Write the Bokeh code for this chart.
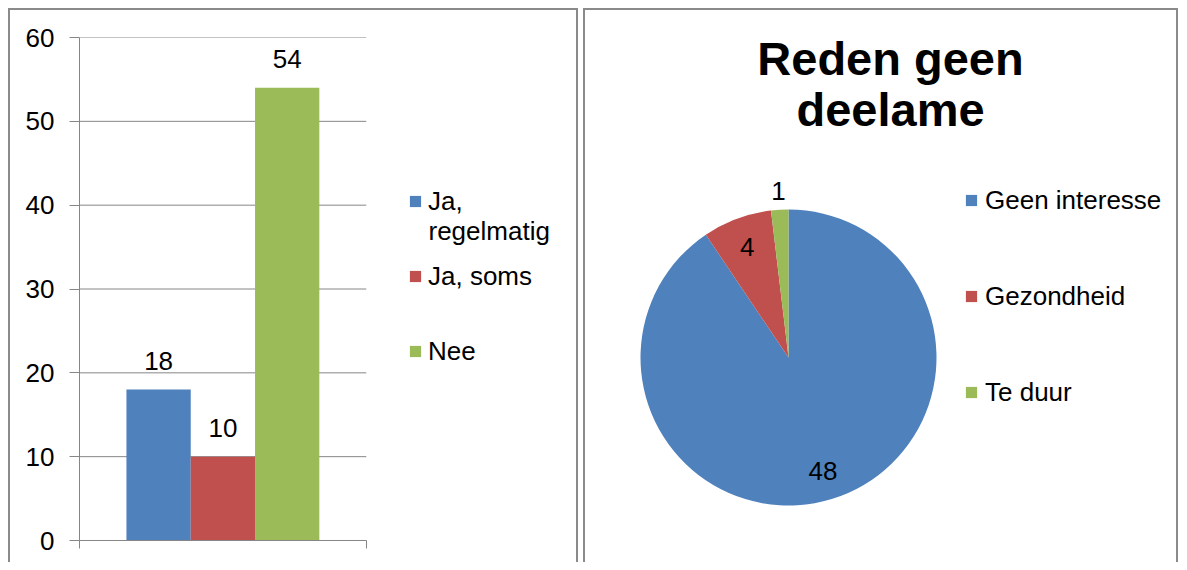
import math
from bokeh.plotting import figure
from bokeh.models import (Range1d, FixedTicker, LinearAxis, Legend, LegendItem,
                          ColumnDataSource, Label, Spacer)
from bokeh.layouts import row, column
from bokeh.core.properties import value
from bokeh.embed import file_html
from bokeh.resources import INLINE

# ---------------- data ----------------
bar_categories = ["Ja,\nregelmatig", "Ja, soms", "Nee"]
bar_values = [18, 10, 54]
bar_colors = ["#4F81BD", "#C0504D", "#9BBB59"]
y_ticks = [0, 10, 20, 30, 40, 50, 60]

pie_categories = ["Geen interesse", "Gezondheid", "Te duur"]
pie_values = [48, 4, 1]
pie_colors = ["#4F81BD", "#C0504D", "#9BBB59"]
pie_title = "Reden geen\ndeelame"

FONT = "Liberation Sans"
GRAY = "#868686"
PANEL_SHADOW = "inset 0 2px 0 #8a8a8a, inset 2px 0 0 #8a8a8a, inset -2px 0 0 #8a8a8a"


def style_legend(lg, size="26px"):
    lg.border_line_color = None
    lg.background_fill_alpha = 0
    lg.padding = 0
    lg.margin = 0
    lg.glyph_width = 14
    lg.glyph_height = 14
    lg.label_standoff = 6
    lg.label_text_font = FONT
    lg.label_text_font_size = size
    lg.label_text_color = "black"


# shared panel geometry (px)
H = 554
MT, MB = 29, 22
FH = H - MT - MB            # frame height

# ---------------- left: bar chart ----------------
W1 = 570
ML, MR = 71, 3
n = len(bar_values)
margin = 0.73
bar_px = 64.3
x0 = -0.5 - margin
x1 = n - 0.5 + margin
x_end = x0 + (W1 - ML - MR) / bar_px
y_px = FH / 60.0
p1 = figure(width=W1, height=H, min_border_left=ML, min_border_right=MR,
            min_border_top=MT, min_border_bottom=MB, title=None,
            x_range=Range1d(x0, x_end), y_range=Range1d(0, 60),
            x_axis_type=None, y_axis_type=None,
            output_backend="svg", toolbar_location=None)
p1.outline_line_color = None
p1.border_fill_color = None
p1.background_fill_color = None
p1.styles = {"box-shadow": PANEL_SHADOW}

yaxis = LinearAxis(ticker=FixedTicker(ticks=y_ticks))
yaxis.axis_line_color = GRAY
yaxis.major_tick_line_color = GRAY
yaxis.major_tick_out = 10
yaxis.major_tick_in = 0
yaxis.minor_tick_line_color = None
yaxis.major_label_standoff = 15
yaxis.major_label_text_font = FONT
yaxis.major_label_text_font_size = "26px"
yaxis.major_label_text_color = "black"
p1.add_layout(yaxis, "left")

xaxis = LinearAxis(ticker=FixedTicker(ticks=[x0, x1]), bounds=(x0, x1))
xaxis.axis_line_color = GRAY
xaxis.major_tick_line_color = GRAY
xaxis.major_tick_out = 8
xaxis.major_tick_in = 0
xaxis.minor_tick_line_color = None
xaxis.major_label_overrides = {x0: " ", x1: " "}
xaxis.major_label_text_font_size = "10px"
xaxis.major_label_standoff = 0
p1.add_layout(xaxis, "below")

# horizontal gridlines limited to the plot area (legend sits to the right)
p1.segment(x0=x0, x1=x1, y0=y_ticks, y1=y_ticks, line_color=GRAY, line_width=1)

src1 = ColumnDataSource(dict(x=list(range(n)), top=bar_values, color=bar_colors,
                             label=[str(v) for v in bar_values]))
bars = p1.vbar(x="x", top="top", bottom=0, width=1.0, fill_color="color",
               line_color=None, source=src1)
p1.text(x="x", y="top", text="label", text_align="center", text_baseline="alphabetic",
        y_offset=-29, text_font=value(FONT), text_font_size="26px", text_color="black",
        source=src1)

leg_x_px = 329                      # glyph left, from frame left
left_legend_bottoms = [323.5, 248.5, 173.5]
for i, cat in enumerate(bar_categories):
    lines = cat.split("\n")
    lg = Legend(items=[LegendItem(label=lines[0], renderers=[bars], index=i)],
                location=(leg_x_px, left_legend_bottoms[i]))
    style_legend(lg)
    p1.add_layout(lg)
    for k, extra in enumerate(lines[1:], start=1):
        base_px = left_legend_bottoms[i] + 15.5 + 1.5 - 31 * k   # from frame bottom
        p1.add_layout(Label(x=x0 + (leg_x_px + 20) / bar_px, y=base_px / y_px,
                            text=extra, text_align="left", text_baseline="alphabetic",
                            text_font=FONT, text_font_size="26px", text_color="black"))

# ---------------- right: pie chart ----------------
W2 = 595
R = 148.0
cx = 205.0                # pie centre from panel left
cy = 320.0                # pie centre from frame top
p2 = figure(width=W2, height=H, min_border_left=0, min_border_right=0,
            min_border_top=MT, min_border_bottom=MB, title=None,
            x_range=Range1d(-cx / R, (W2 - cx) / R), y_range=Range1d(-(FH - cy) / R, cy / R),
            x_axis_type=None, y_axis_type=None,
            output_backend="svg", toolbar_location=None)
p2.outline_line_color = None
p2.border_fill_color = None
p2.background_fill_color = None
p2.styles = {"box-shadow": PANEL_SHADOW}

total = float(sum(pie_values))
starts, ends, lx, ly = [], [], [], []
cum = 0.0
for v in pie_values:
    a0 = math.pi / 2 - 2 * math.pi * cum / total
    a1 = math.pi / 2 - 2 * math.pi * (cum + v) / total
    mid = (a0 + a1) / 2
    rl = 0.8 if v / total >= 0.05 else 1.13
    starts.append(a0)
    ends.append(a1)
    lx.append(rl * math.cos(mid))
    ly.append(rl * math.sin(mid))
    cum += v

src2 = ColumnDataSource(dict(start=starts, end=ends, color=pie_colors, lx=lx, ly=ly,
                             label=[str(v) for v in pie_values]))
wedges = p2.wedge(x=0, y=0, radius=1, start_angle="start", end_angle="end",
                  direction="clock", fill_color="color", line_color=None, source=src2)
p2.text(x="lx", y="ly", text="label", text_align="center", text_baseline="middle",
        text_font=value(FONT), text_font_size="26px", text_color="black", source=src2)

title_lines = pie_title.split("\n")
title_baselines_px = [299.0, 248.0]      # above pie centre
for t, yb in zip(title_lines, title_baselines_px):
    p2.add_layout(Label(x=102.0 / R, y=yb / R, text=t,
                        text_align="center", text_baseline="alphabetic", text_font=FONT,
                        text_font_style="bold", text_font_size="47px", text_color="black"))

lg2 = Legend(items=[LegendItem(label=c, renderers=[wedges], index=i)
                    for i, c in enumerate(pie_categories)],
             location=(381, 132.5))
style_legend(lg2)
lg2.spacing = 65
lg2.label_standoff = 7
p2.add_layout(lg2)

layout = column(Spacer(width=10, height=8),
                row(Spacer(width=8, height=10), p1, Spacer(width=5, height=10), p2))
open("out.html", "w").write(file_html(layout, INLINE))
